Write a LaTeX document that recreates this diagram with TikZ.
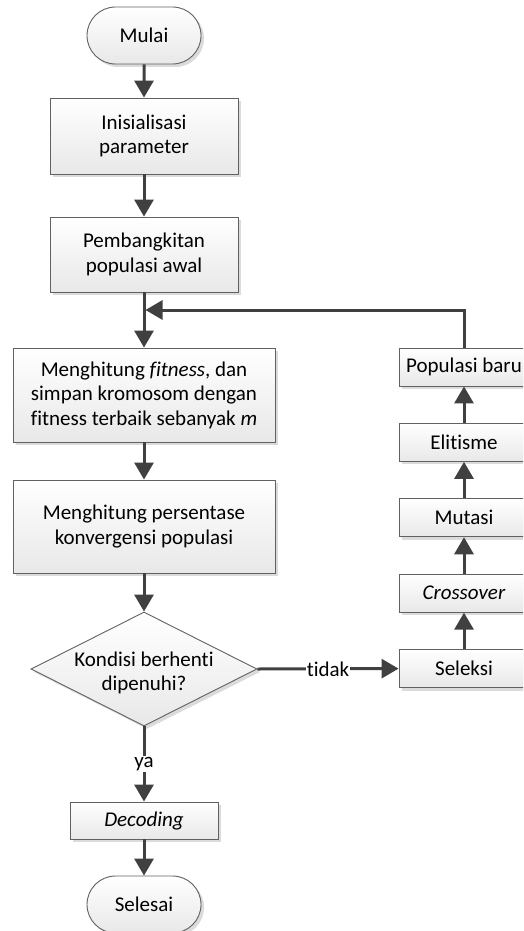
\documentclass[tikz,border=0pt]{standalone}
\usepackage{fontspec}
\setmainfont[Ligatures=NoCommon]{Carlito}
\usetikzlibrary{shapes.geometric,shapes.misc,shadows,arrows.meta}
\begin{document}
\begin{tikzpicture}[x=1pt,y=-1pt,
  base/.style={draw=black!62, line width=0.9pt, top color=white, bottom color=black!9,
    drop shadow={shadow xshift=3pt, shadow yshift=-3pt, fill=black!14, opacity=1},
    inner sep=0pt, align=center, font=\fontsize{21}{24.5}\selectfont},
  procbox/.style={base, rectangle},
  term/.style={base, rounded rectangle, minimum width=114pt, minimum height=57pt},
  decision/.style={base, diamond, minimum width=226pt, minimum height=114pt, aspect=2},
  flow/.style={draw=black!75, line width=3pt, -{Triangle[length=17pt,width=19pt]}},
  lbl/.style={fill=white, inner sep=1pt, font=\fontsize{21}{24.5}\selectfont}
]
\useasboundingbox (0,0) rectangle (523,931);
\clip (0,0) rectangle (523,931);
\fill[white] (0,0) rectangle (523,931);

\node[term] (start) at (144,35.5) {Mulai};
\node[procbox, minimum width=188pt, minimum height=76pt] (init) at (144,136) {Inisialisasi\\parameter};
\node[procbox, minimum width=188pt, minimum height=75pt] (gen) at (144,254.5) {Pembangkitan\\populasi awal};
\node[procbox, minimum width=262pt, minimum height=94pt] (fit) at (144,395) {Menghitung \textit{fitness}, dan\\simpan kromosom dengan\\fitness terbaik sebanyak \textit{m}};
\node[procbox, minimum width=262pt, minimum height=93pt] (conv) at (144,526.5) {Menghitung persentase\\konvergensi populasi};
\node[decision] (dec) at (144,669) {};
\node[align=center, inner sep=0pt, font=\fontsize{21}{24.5}\selectfont] (dectext) at (144,673) {Kondisi berhenti\\dipenuhi?};
\node[procbox, minimum width=148pt, minimum height=37pt] (decode) at (144,820.5) {\textit{Decoding}};
\node[term] (stop) at (144,904.5) {Selesai};

\node[procbox, minimum width=130pt, minimum height=38pt] (pop) at (464,367) {Populasi baru};
\node[procbox, minimum width=130pt, minimum height=38pt] (elit) at (464,442.4) {Elitisme};
\node[procbox, minimum width=130pt, minimum height=38pt] (mut) at (464,517.8) {Mutasi};
\node[procbox, minimum width=130pt, minimum height=38pt] (cross) at (464,593.2) {\textit{Crossover}};
\node[procbox, minimum width=130pt, minimum height=38pt] (sel) at (464,668.6) {Seleksi};

\coordinate (join) at (145.5,310);

\draw[flow] (start) -- (init);
\draw[flow] (init) -- (gen);
\draw[flow] (gen) -- (fit);
\draw[flow] (fit) -- (conv);
\draw[flow] (conv) -- (dec);
\draw[flow] (dec.south) -- node[lbl] {ya} (decode.north);
\draw[flow] (decode) -- (stop);
\draw[flow] (dec.east) -- node[lbl] {tidak} (sel.west);
\draw[flow] (sel) -- (cross);
\draw[flow] (cross) -- (mut);
\draw[flow] (mut) -- (elit);
\draw[flow] (elit) -- (pop);
\draw[flow] (pop.north) |- (join);
\end{tikzpicture}
\end{document}
